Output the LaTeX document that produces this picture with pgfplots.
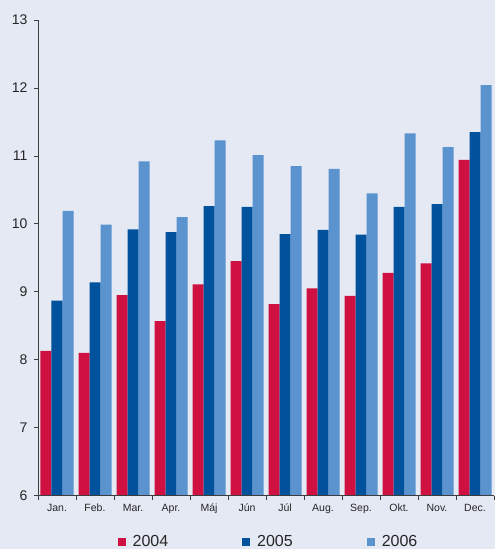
\documentclass[border=0pt]{standalone}
\usepackage{fontspec}
\setmainfont{Liberation Sans}
\usepackage{pgfplots}
\pgfplotsset{compat=1.18}
\definecolor{bgc}{RGB}{228,233,244}
\definecolor{cA}{RGB}{206,17,65}
\definecolor{cB}{RGB}{0,82,156}
\definecolor{cC}{RGB}{91,147,207}
\definecolor{axc}{RGB}{60,60,60}
\begin{document}
\begin{tikzpicture}
\useasboundingbox (0,0) rectangle (495pt,549pt);
\fill[bgc] (0,0) rectangle (495pt,549pt);
\begin{axis}[
  at={(38pt,53.3pt)}, anchor=south west,
  scale only axis, width=456pt, height=475.7pt,
  xmin=-0.5, xmax=11.5, ymin=6, ymax=13,
  ybar=0pt, bar width=11pt,
  axis on top,
  axis x line=bottom, axis y line=left,
  axis line style={-, draw=axc, line width=0.9pt},
  tick align=outside,
  major tick length=4pt,
  tick style={draw=axc, line width=0.8pt},
  xtick={-0.5,0.5,...,11.5},
  xticklabels={Jan.,Feb.,Mar.,Apr.,Máj,Jún,Júl,Aug.,Sep.,Okt.,Nov.,Dec.,{}},
  x tick label style={xshift=19pt, font=\fontsize{10.5}{12}\selectfont, text=black!85, yshift=-1pt},
  ytick={6,...,13},
  y tick label style={font=\fontsize{14}{16}\selectfont, text=black!85, xshift=-3pt},
  /pgf/number format/assume math mode=true,
  legend style={at={(0.5055,-0.0973)}, anchor=center, draw=none, fill=none,
    font=\fontsize{16}{18}\selectfont, legend columns=3, text=black!85,
    /tikz/every odd column/.append style={column sep=5pt},
    /tikz/every even column/.append style={column sep=72pt}},
  legend image code/.code={\fill[#1,/tikz/.cd,draw=none] (0pt,-4pt) rectangle (8pt,4pt);},
]
\addplot[fill=cA, draw=none] coordinates {(0,8.13) (1,8.10) (2,8.95) (3,8.57) (4,9.11) (5,9.45) (6,8.82) (7,9.05) (8,8.94) (9,9.28) (10,9.42) (11,10.94)};
\addplot[fill=cB, draw=none] coordinates {(0,8.87) (1,9.14) (2,9.92) (3,9.88) (4,10.26) (5,10.25) (6,9.85) (7,9.91) (8,9.84) (9,10.25) (10,10.29) (11,11.35)};
\addplot[fill=cC, draw=none] coordinates {(0,10.19) (1,9.99) (2,10.92) (3,10.10) (4,11.23) (5,11.01) (6,10.85) (7,10.81) (8,10.45) (9,11.33) (10,11.13) (11,12.04)};
\legend{2004,2005,2006}
\end{axis}
\end{tikzpicture}
\end{document}
